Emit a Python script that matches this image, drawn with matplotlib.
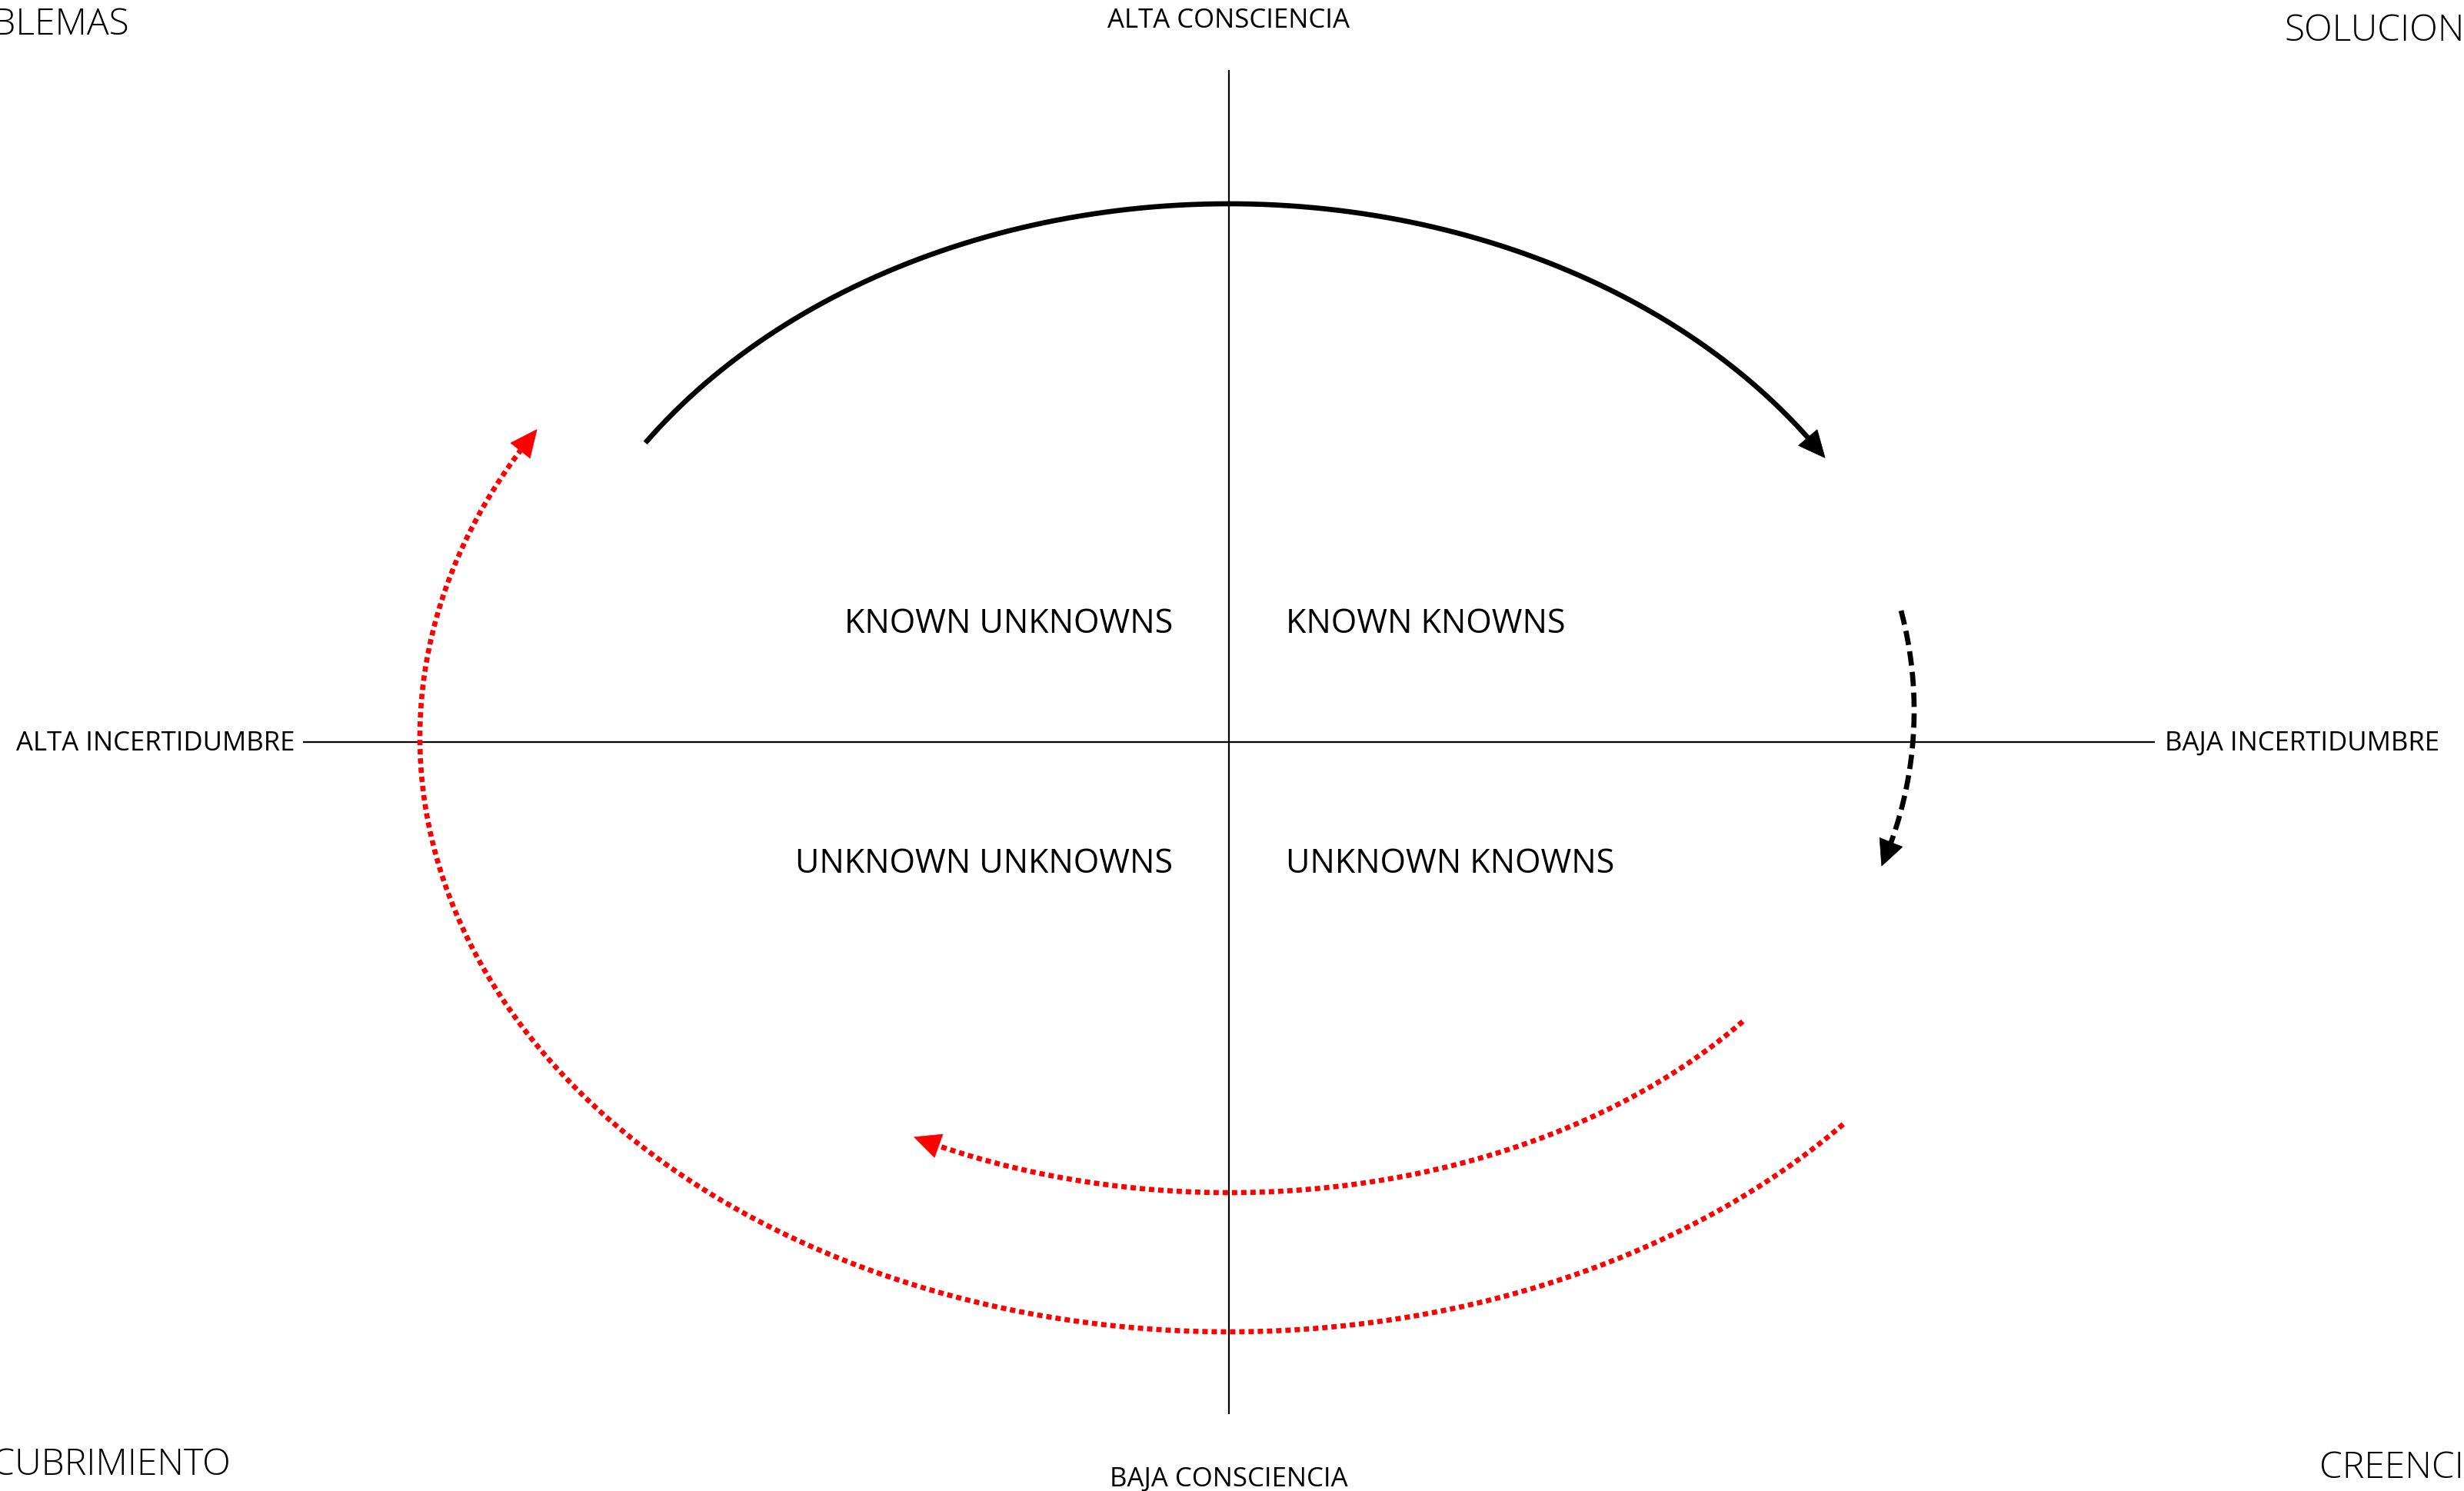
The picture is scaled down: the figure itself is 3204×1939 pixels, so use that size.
import numpy as np
import matplotlib
matplotlib.use("Agg")
import matplotlib.pyplot as plt
from matplotlib.patches import Polygon

plt.rcParams['font.family'] = ['Open Sans', 'DejaVu Sans']

# ---- text content ----
axis_labels = ["ALTA CONSCIENCIA", "BAJA CONSCIENCIA", "ALTA INCERTIDUMBRE", "BAJA INCERTIDUMBRE"]
quadrant_labels = ["KNOWN UNKNOWNS", "KNOWN KNOWNS", "UNKNOWN UNKNOWNS", "UNKNOWN KNOWNS"]
corner_labels = ["PROBLEMAS", "SOLUCIONES", "DESCUBRIMIENTO", "CREENCIAS"]

# ---- arc geometry: centre x, centre y, radius x, radius y, start angle, tip angle ----
arc_cx = [1598, 1984, 1598, 1598]
arc_cy = [960, 925, 960, 960]
arc_rx = [910, 505, 855, 1052]
arc_ry = [694, 505, 592, 773]
arc_t0 = [146.5, 14.9, -38.6, -40.6]
arc_t1 = [31.6, -23.6, -118.6, -211.2]
arc_color = ['black', 'black', '#ff0000', '#ff0000']
arc_style = ['solid', 'dashed', 'dotted', 'dotted']

fig = plt.figure(figsize=(32.05, 19.40), dpi=100)
ax = fig.add_axes([0, 0, 1, 1])
ax.set_xlim(0, 3205)
ax.set_ylim(1940, 0)
ax.axis('off')

# axes cross
ax.plot([1598, 1598], [92, 1840], color='black', lw=1.6, solid_capstyle='butt')
ax.plot([394, 2802], [966, 966], color='black', lw=1.6, solid_capstyle='butt')

def draw_arc(cx, cy, rx, ry, t0, t1, color, style, head_len=33, head_w=32):
    t = np.radians(np.linspace(t0, t1, 800))
    x = cx + rx * np.cos(t)
    y = cy - ry * np.sin(t)
    tip = np.array([x[-1], y[-1]])
    d = np.hypot(x - tip[0], y - tip[1])
    idx = np.where(d >= head_len)[0][-1]
    base = np.array([x[idx], y[idx]])
    if style == 'solid':
        ls = '-'
    elif style == 'dashed':
        ls = (0, (2.8, 1.25))
    else:
        ls = (0, (1.05, 0.75))
    ax.plot(x[:idx + 1], y[:idx + 1], color=color, lw=4.8, linestyle=ls,
            solid_capstyle='butt', dash_capstyle='butt')
    v = (tip - base) / np.linalg.norm(tip - base)
    n = np.array([-v[1], v[0]])
    tri = np.array([tip, base + n * head_w / 2, base - n * head_w / 2])
    ax.add_patch(Polygon(tri, closed=True, facecolor=color, edgecolor=color, lw=0.5))

for i in range(len(arc_cx)):
    draw_arc(arc_cx[i], arc_cy[i], arc_rx[i], arc_ry[i], arc_t0[i], arc_t1[i],
             arc_color[i], arc_style[i])

# axis labels
fs_axis = 25
ax.text(1598, 36, axis_labels[0], ha='center', va='baseline', fontsize=fs_axis)
ax.text(1598, 1933, axis_labels[1], ha='center', va='baseline', fontsize=fs_axis)
ax.text(383, 976, axis_labels[2], ha='right', va='baseline', fontsize=fs_axis)
ax.text(2815, 976, axis_labels[3], ha='left', va='baseline', fontsize=fs_axis)

# quadrant labels
fs_q = 31
ax.text(1525, 823, quadrant_labels[0], ha='right', va='baseline', fontsize=fs_q)
ax.text(1672, 823, quadrant_labels[1], ha='left', va='baseline', fontsize=fs_q)
ax.text(1525, 1135, quadrant_labels[2], ha='right', va='baseline', fontsize=fs_q)
ax.text(1672, 1135, quadrant_labels[3], ha='left', va='baseline', fontsize=fs_q)

# corner labels
fs_c = 34.5
ax.text(168, 45, corner_labels[0], ha='right', va='baseline', fontsize=fs_c, fontweight='light')
ax.text(2970, 53, corner_labels[1], ha='left', va='baseline', fontsize=fs_c, fontweight='light')
ax.text(300, 1918, corner_labels[2], ha='right', va='baseline', fontsize=fs_c, fontweight='light')
ax.text(3016, 1922, corner_labels[3], ha='left', va='baseline', fontsize=fs_c, fontweight='light')

fig.savefig('out.png', dpi=100, facecolor='white')
